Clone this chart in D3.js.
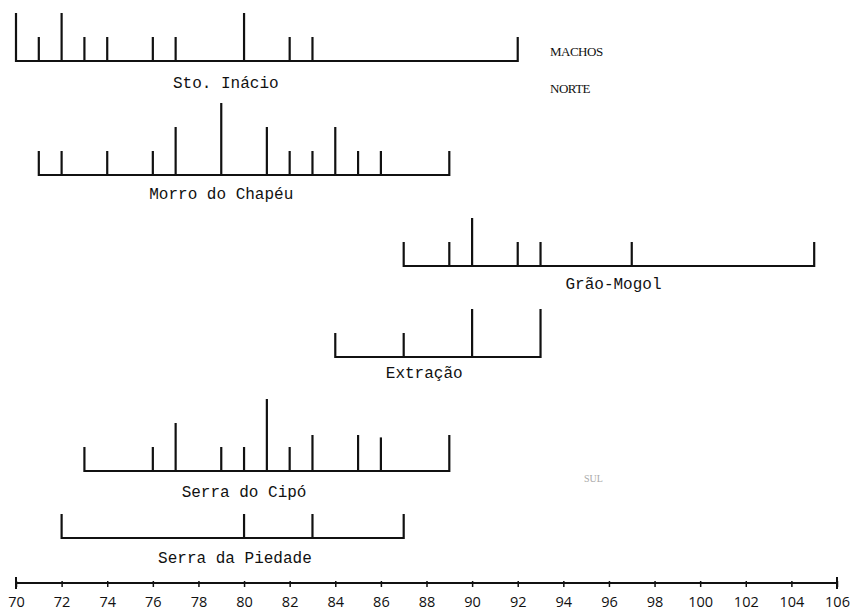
<!DOCTYPE html>
<html>
<head>
<meta charset="utf-8">
<script src="https://cdn.jsdelivr.net/npm/d3@7"></script>
<style>
  body { margin: 0; background: #fff; }
  .canvas svg { display: block; }
</style>
</head>
<body>
<div class="canvas"></div>
<script>
// locality names, top to bottom
const localities = ['Sto. Inácio', 'Morro do Chapéu', 'Grão-Mogol', 'Extração', 'Serra do Cipó', 'Serra da Piedade'];

// measured values for each locality, and how many specimens had that value
const stoInacioVals = [70, 71, 72, 73, 74, 76, 77, 80, 82, 83, 92];
const stoInacioFreq = [2, 1, 2, 1, 1, 1, 1, 2, 1, 1, 1];

const morroVals = [71, 72, 74, 76, 77, 79, 81, 82, 83, 84, 85, 86, 89];
const morroFreq = [1, 1, 1, 1, 2, 3, 2, 1, 1, 2, 1, 1, 1];

const graoMogolVals = [87, 89, 90, 92, 93, 97, 105];
const graoMogolFreq = [1, 1, 2, 1, 1, 1, 1];

const extracaoVals = [84, 87, 90, 93];
const extracaoFreq = [1, 1, 2, 2];

const cipoVals = [73, 76, 77, 79, 80, 81, 82, 83, 85, 86, 89];
const cipoFreq = [1, 1, 2, 1, 1, 3, 1, 1.5, 1.5, 1.4, 1.5];

const piedadeVals = [72, 80, 83, 87];
const piedadeFreq = [1, 1, 1, 1];

// axis tick labels
const tickLabels = d3.range(70, 107, 2);

// side notes
const notes = ['MACHOS', 'NORTE'];

// build rows from the arrays above
const rows = [
  [stoInacioVals, stoInacioFreq],
  [morroVals, morroFreq],
  [graoMogolVals, graoMogolFreq],
  [extracaoVals, extracaoFreq],
  [cipoVals, cipoFreq],
  [piedadeVals, piedadeFreq]
].map(([vals, freq], i) => ({
  name: localities[i],
  points: vals.map((v, j) => ({ value: v, n: freq[j] }))
}));

// layout (pixel positions for each row)
const layout = {
  base: [61, 175, 266, 357, 471, 538],   // baseline y of every row
  labelDy: [21, 18, 17, 15, 20, 19],     // label offset under baseline
  labelAt: [79.2, 79.0, 96.2, 87.9, 80.0, 79.6], // label centre on x scale
  axisY: 583
};

const width = 860, height = 615;

const svg = d3.select('.canvas')
  .append('svg')
  .attr('width', width)
  .attr('height', height);

const x = d3.scaleLinear()
  .domain([70, 106])
  .range([16, 837]);

// bar height per specimen
const h = d3.scaleLinear()
  .domain([0, 1])
  .range([0, 24]);

const ink = '#111';

const group = svg.selectAll('g.row')
  .data(rows)
  .enter()
  .append('g')
  .attr('class', 'row')
  .attr('transform', (d, i) => `translate(0, ${layout.base[i]})`);

// baseline from min to max
group.append('line')
  .attr('x1', d => x(d3.min(d.points, p => p.value)))
  .attr('x2', d => x(d3.max(d.points, p => p.value)))
  .attr('y1', 0)
  .attr('y2', 0)
  .attr('stroke', ink)
  .attr('stroke-width', 2.2);

// frequency spikes
group.selectAll('line.spike')
  .data(d => d.points)
  .enter()
  .append('line')
  .attr('class', 'spike')
  .attr('x1', p => x(p.value))
  .attr('x2', p => x(p.value))
  .attr('y1', 1)
  .attr('y2', p => -h(p.n))
  .attr('stroke', ink)
  .attr('stroke-width', 2.2);

// locality names
group.append('text')
  .attr('x', (d, i) => x(layout.labelAt[i]))
  .attr('y', (d, i) => layout.labelDy[i])
  .attr('dy', '0.35em')
  .attr('text-anchor', 'middle')
  .attr('font-family', '"Liberation Mono", "DejaVu Sans Mono", monospace')
  .attr('font-size', 16)
  .attr('fill', ink)
  .text(d => d.name);

// bottom axis
const axis = d3.axisBottom(x)
  .tickValues(tickLabels)
  .tickSize(4)
  .tickPadding(10)
  .tickFormat(d3.format('d'));

const axisG = svg.append('g')
  .attr('transform', `translate(0, ${layout.axisY})`)
  .call(axis);

axisG.select('.domain')
  .attr('d', `M${x(70)},0H${x(106)}`)
  .attr('stroke', ink)
  .attr('stroke-width', 2);

axisG.selectAll('.tick line')
  .attr('y1', -2)
  .attr('stroke', ink)
  .attr('stroke-width', 1.5);

axisG.selectAll('.tick text')
  .attr('font-family', '"Open Sans", "Noto Sans", sans-serif')
  .attr('font-size', 14.5)
  .attr('fill', ink);

// end marks on the axis
axisG.selectAll('line.end')
  .data(x.domain())
  .enter()
  .append('line')
  .attr('class', 'end')
  .attr('x1', d => x(d))
  .attr('x2', d => x(d))
  .attr('y1', -6)
  .attr('y2', 6)
  .attr('stroke', ink)
  .attr('stroke-width', 2);

// side notes
svg.selectAll('text.note')
  .data(notes)
  .enter()
  .append('text')
  .attr('class', 'note')
  .attr('x', 550)
  .attr('y', (d, i) => 51 + i * 37)
  .attr('dy', '0.35em')
  .attr('font-family', '"Liberation Serif", serif')
  .attr('font-size', 13)
  .attr('letter-spacing', -0.5)
  .attr('fill', ink)
  .text(d => d);

// faint scan of "SUL"
svg.append('text')
  .attr('x', 584)
  .attr('y', 478)
  .attr('dy', '0.35em')
  .attr('font-family', '"Liberation Serif", serif')
  .attr('font-size', 10)
  .attr('fill', '#aaa')
  .text('SUL');
</script>
</body>
</html>
